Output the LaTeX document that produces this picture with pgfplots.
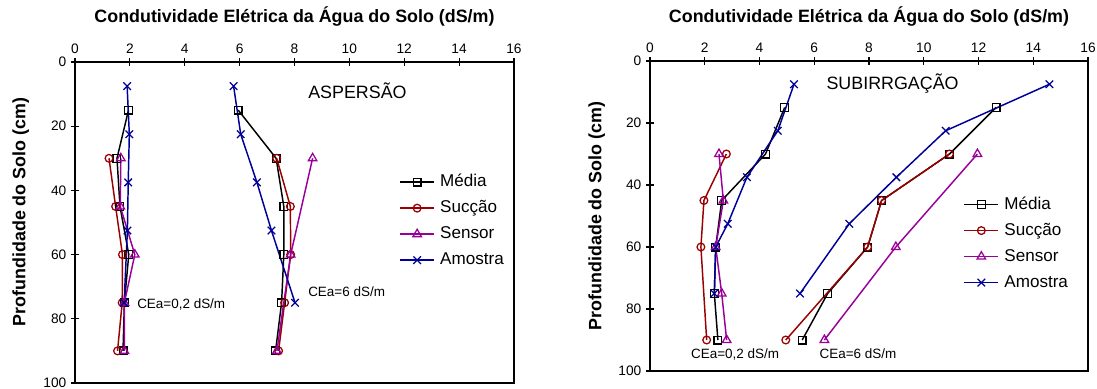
\documentclass[border=0pt]{standalone}
\usepackage{fontspec}
\setmainfont{Liberation Sans}
\usepackage{pgfplots}
\pgfplotsset{compat=1.18}
\definecolor{csuc}{HTML}{990000}
\definecolor{csen}{HTML}{990099}
\definecolor{cams}{HTML}{000099}
\newcommand\PX[2]{({(#1)*0.75pt},{(389-(#2))*0.75pt})}
\pgfplotsset{
  med/.style={black, mark=square, mark size=2.9pt},
  suc/.style={csuc, mark=o, mark size=2.9pt},
  sen/.style={csen, mark=triangle, mark size=3.7pt},
  ams/.style={cams, mark=x, mark size=4pt},
  prof/.style={
    scale only axis,
    xmin=0, xmax=16, ymin=0, ymax=100,
    y dir=reverse,
    xtick={0,2,...,16}, ytick={0,20,...,100},
    xtick pos=right, xticklabel pos=right,
    ytick pos=left, yticklabel pos=left,
    tick align=center,
    major tick length=6pt,
    tick style={black, line width=0.8pt},
    axis line style={black, line width=1pt},
    tick label style={font=\fontsize{10.3}{12}\selectfont},
    /pgf/number format/assume math mode=true,
    every axis plot/.append style={line width=1.1pt},
    mark options={solid, line width=0.95pt, fill=none},
    legend cell align=left,
    legend style={anchor=north west, draw=none, fill=none, inner sep=0pt, outer sep=0pt,
      font=\fontsize{12.8}{15}\selectfont, row sep=7.8pt, column sep=4pt,
      nodes={inner sep=0pt, text height=9.2pt, text depth=2.5pt}},
    legend image code/.code={\draw[mark repeat=2,mark phase=2] plot coordinates {(0pt,0pt)(12.75pt,0pt)(25.5pt,0pt)};},
  }
}
\begin{document}
\begin{tikzpicture}
\useasboundingbox (0,0) rectangle (822.75pt,291.75pt);
% ---------------- ASPERSAO ----------------
\begin{axis}[prof, at={(56.25pt,4.5pt)}, anchor=south west, width=329.25pt, height=240.75pt,
  legend style={at={(0.739,0.650)}}]
\addplot[med] coordinates {(1.95,15)(1.53,30)(1.64,45)(1.96,60)(1.80,75)(1.75,90)};
\addlegendentry{Média}
\addplot[suc] coordinates {(1.24,30)(1.48,45)(1.73,60)(1.72,75)(1.55,90)};
\addlegendentry{Sucção}
\addplot[sen] coordinates {(1.67,30)(1.65,45)(2.18,60)(1.80,75)(1.80,90)};
\addlegendentry{Sensor}
\addplot[ams] coordinates {(1.90,7.5)(1.98,22.5)(1.94,37.5)(1.91,52.5)(1.79,75)};
\addlegendentry{Amostra}
\addplot[med, forget plot] coordinates {(5.95,15)(7.33,30)(7.61,45)(7.61,60)(7.53,75)(7.31,90)};
\addplot[suc, forget plot] coordinates {(7.35,30)(7.85,45)(7.86,60)(7.64,75)(7.42,90)};
\addplot[sen, forget plot] coordinates {(8.66,30)(7.86,60)(7.36,90)};
\addplot[ams, forget plot] coordinates {(5.78,7.5)(6.04,22.5)(6.63,37.5)(7.16,52.5)(8.02,75)};
\end{axis}
% ---------------- SUBIRRIGACAO ----------------
\begin{axis}[prof, at={(487.5pt,13.5pt)}, anchor=south west, width=328.5pt, height=232.5pt,
  legend style={at={(0.716,0.562)}}]
\addplot[med] coordinates {(4.92,15)(4.22,30)(2.62,45)(2.40,60)(2.35,75)(2.48,90)};
\addlegendentry{Média}
\addplot[suc] coordinates {(2.79,30)(1.97,45)(1.86,60)(2.07,90)};
\addlegendentry{Sucção}
\addplot[sen] coordinates {(2.52,30)(2.68,45)(2.40,60)(2.62,75)(2.80,90)};
\addlegendentry{Sensor}
\addplot[ams] coordinates {(5.26,7.5)(4.67,22.5)(3.54,37.5)(2.84,52.5)(2.40,60)(2.35,75)};
\addlegendentry{Amostra}
\addplot[med, forget plot] coordinates {(12.64,15)(10.94,30)(8.46,45)(7.95,60)(6.49,75)(5.56,90)};
\addplot[suc, forget plot] coordinates {(10.94,30)(8.46,45)(7.95,60)(4.96,90)};
\addplot[sen, forget plot] coordinates {(11.96,30)(8.98,60)(6.37,90)};
\addplot[ams, forget plot] coordinates {(14.59,7.5)(10.80,22.5)(9.00,37.5)(7.28,52.5)(5.48,75)};
\end{axis}
% ---------------- texts ----------------
\node[anchor=base, font=\fontsize{13.4}{16}\selectfont\bfseries] at \PX{294.5}{22.4}
  {Condutividade Elétrica da Água do Solo (dS/m)};
\node[anchor=base, font=\fontsize{13.4}{16}\selectfont\bfseries] at \PX{869}{22.4}
  {Condutividade Elétrica da Água do Solo (dS/m)};
\node[anchor=base, rotate=90, font=\fontsize{13.4}{16}\selectfont\bfseries] at \PX{25.4}{212}
  {Profundidade do Solo (cm)};
\node[anchor=base, rotate=90, font=\fontsize{13.4}{16}\selectfont\bfseries] at \PX{601.4}{216}
  {Profundidade do Solo (cm)};
\node[anchor=base west, inner sep=0pt, font=\fontsize{13.4}{16}\selectfont] at \PX{308}{98.4} {ASPERSÃO};
\node[anchor=base west, inner sep=0pt, font=\fontsize{13.4}{16}\selectfont] at \PX{826.3}{89.4} {SUBIRRGAÇÃO};
\node[anchor=base west, inner sep=0pt, font=\fontsize{10.1}{12}\selectfont] at \PX{137}{308.6} {CEa=0,2 dS/m};
\node[anchor=base west, inner sep=0pt, font=\fontsize{10.1}{12}\selectfont] at \PX{308}{296.8} {CEa=6 dS/m};
\node[anchor=base west, inner sep=0pt, font=\fontsize{10.1}{12}\selectfont] at \PX{690.8}{358.8} {CEa=0,2 dS/m};
\node[anchor=base west, inner sep=0pt, font=\fontsize{10.1}{12}\selectfont] at \PX{819.4}{358.8} {CEa=6 dS/m};
\end{tikzpicture}
\end{document}
